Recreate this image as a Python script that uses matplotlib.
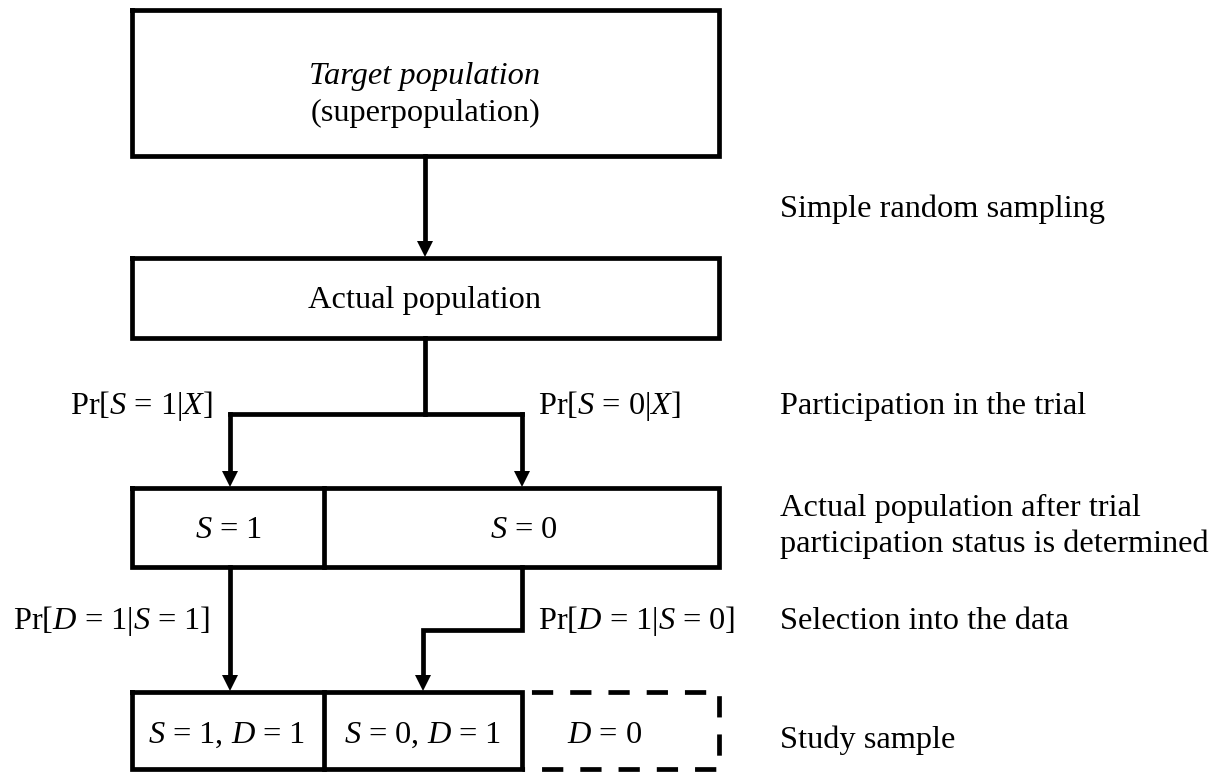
import matplotlib.pyplot as plt
from matplotlib.patches import Polygon

plt.rcParams['font.family'] = 'Liberation Serif'
plt.rcParams['mathtext.fontset'] = 'custom'
plt.rcParams['mathtext.rm'] = 'Liberation Serif'
plt.rcParams['mathtext.it'] = 'Liberation Serif:italic'

# texts
top_title = 'Target population'
top_sub = '(superpopulation)'
mid_box = 'Actual population'
row3_labels = ['$S$ = 1', '$S$ = 0']
row4_labels = ['$S$ = 1, $D$ = 1', '$S$ = 0, $D$ = 1', '$D$ = 0']
branch_left = ['Pr[$S$ = 1|$X$]', 'Pr[$D$ = 1|$S$ = 1]']
branch_right = ['Pr[$S$ = 0|$X$]', 'Pr[$D$ = 1|$S$ = 0]']
side_notes = ['Simple random sampling', 'Participation in the trial',
              'Actual population after trial\nparticipation status is determined',
              'Selection into the data', 'Study sample']

W, H = 1222, 772
fig = plt.figure(figsize=(W / 100, H / 100), dpi=100)
ax = fig.add_axes([0, 0, 1, 1])
ax.set_xlim(0, W)
ax.set_ylim(H, 0)
ax.axis('off')

lw = 3.4
fs = 23.3
k = dict(color='black', lw=lw, solid_capstyle='projecting', solid_joinstyle='miter')


def rect(x0, y0, x1, y1):
    ax.plot([x0, x1, x1, x0, x0], [y0, y0, y1, y1, y0], **k)


def arrow(pts):
    # polyline ending in a filled triangle head
    xs = [p[0] for p in pts]
    ys = [p[1] for p in pts]
    ax.plot(xs, ys[:-1] + [ys[-1] - 14], **k)
    tx, ty = pts[-1]
    ax.add_patch(Polygon([(tx - 8, ty - 17), (tx + 8, ty - 17), (tx, ty - 1)],
                         closed=True, color='black', lw=0))


xl, xr = 132, 719
xc = 425
# boxes
rect(xl, 10, xr, 156)
rect(xl, 258, xr, 338)
rect(xl, 488, xr, 567)
ax.plot([324, 324], [488, 567], **k)
rect(xl, 692, 522, 769)
ax.plot([324, 324], [692, 769], **k)
ax.plot([522, xr, xr, 522], [692, 692, 769, 769], color='black', lw=lw,
        linestyle=(6.1, (4.5, 3.6)), dash_capstyle='butt')

# arrows
arrow([(xc, 156), (xc, 258)])
ax.plot([xc, xc], [338, 414], **k)
ax.plot([230, 522], [414, 414], **k)
arrow([(230, 414), (230, 488)])
arrow([(522, 414), (522, 488)])
arrow([(230, 567), (230, 692)])
arrow([(522, 567), (522, 630), (423, 630), (423, 692)])

# box texts
ax.text(xc, 84, top_title, ha='center', va='baseline', fontsize=fs, style='italic')
ax.text(xc, 121, top_sub, ha='center', va='baseline', fontsize=fs)
ax.text(xc, 308, mid_box, ha='center', va='baseline', fontsize=fs)
for x, s in zip([228, 524], row3_labels):
    ax.text(x, 538, s, ha='center', va='baseline', fontsize=fs)
for x, s in zip([227, 423, 605], row4_labels):
    ax.text(x, 743, s, ha='center', va='baseline', fontsize=fs)

# branch labels
ax.text(213, 414, branch_left[0], ha='right', va='baseline', fontsize=fs)
ax.text(210, 629, branch_left[1], ha='right', va='baseline', fontsize=fs)
ax.text(538, 414, branch_right[0], ha='left', va='baseline', fontsize=fs)
ax.text(538, 629, branch_right[1], ha='left', va='baseline', fontsize=fs)

# side notes
for y, s in zip([217, 414, 552, 629, 748], side_notes):
    ax.text(780, y, s, ha='left', va='baseline', fontsize=fs, linespacing=1.3)

fig.savefig('out.png', dpi=100)
